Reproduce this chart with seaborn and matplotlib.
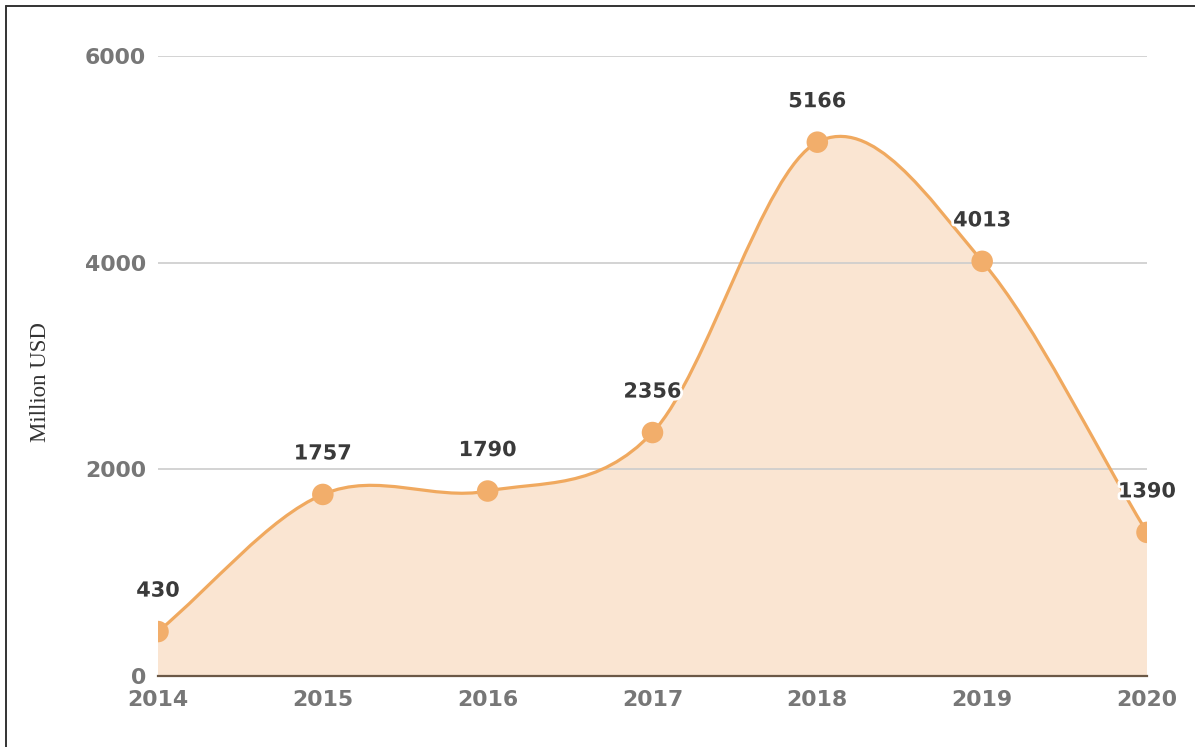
import matplotlib
matplotlib.use("Agg")
import matplotlib.pyplot as plt
import matplotlib.patheffects as pe
from matplotlib.path import Path
from matplotlib.patches import PathPatch
from matplotlib.lines import Line2D
import seaborn as sns
import pandas as pd

years = [2014, 2015, 2016, 2017, 2018, 2019, 2020]
values = [430, 1757, 1790, 2356, 5166, 4013, 1390]
y_ticks = [0, 2000, 4000, 6000]

line_color = "#F0A95F"
fill_color = "#FAE5D2"
marker_color = "#F2AE6B"


def spline_path(xs, ys, close_to=None):
    # catmull-rom tangents -> cubic bezier segments, drawn by matplotlib itself
    n = len(xs)
    tang = []
    for i in range(n):
        if i == 0:
            tang.append((ys[1] - ys[0]) / (xs[1] - xs[0]))
        elif i == n - 1:
            tang.append((ys[-1] - ys[-2]) / (xs[-1] - xs[-2]))
        else:
            tang.append((ys[i + 1] - ys[i - 1]) / (xs[i + 1] - xs[i - 1]))
    verts = [(xs[0], ys[0])]
    codes = [Path.MOVETO]
    for i in range(n - 1):
        h = (xs[i + 1] - xs[i]) / 3
        verts += [(xs[i] + h, ys[i] + tang[i] * h),
                  (xs[i + 1] - h, ys[i + 1] - tang[i + 1] * h),
                  (xs[i + 1], ys[i + 1])]
        codes += [Path.CURVE4] * 3
    if close_to is not None:
        verts += [(xs[-1], close_to), (xs[0], close_to), (xs[0], ys[0])]
        codes += [Path.LINETO, Path.LINETO, Path.CLOSEPOLY]
    return Path(verts, codes)


sns.set_theme(style="white")
plt.rcParams['font.family'] = ['DejaVu Sans']

df = pd.DataFrame({"year": years, "value": values})

fig = plt.figure(figsize=(11.95, 7.47), dpi=100)
ax = fig.add_axes([158 / 1195, 1 - 676 / 747, (1147 - 158) / 1195, (676 - 56) / 747])

ax.add_patch(PathPatch(spline_path(years, values, close_to=0), facecolor=fill_color,
                       edgecolor="none", zorder=1))
ax.add_patch(PathPatch(spline_path(years, values), facecolor="none",
                       edgecolor=line_color, linewidth=2.3, zorder=3))
sns.scatterplot(data=df, x="year", y="value", ax=ax, s=240, color=marker_color,
                edgecolor="none", zorder=4, legend=False)

for x, y in zip(years, values):
    ax.annotate(str(y), (x, y), xytext=(0, 29.5), textcoords="offset points",
                ha="center", va="center", fontsize=15, fontweight="bold", color="#3a3a3a",
                path_effects=[pe.withStroke(linewidth=4, foreground="white")], zorder=5,
                annotation_clip=False)

ax.set_xlim(years[0], years[-1])
ax.set_ylim(0, 6000)
ax.set_xticks(years)
ax.set_yticks(y_ticks)
ax.set_xticklabels([str(y) for y in years])
ax.set_yticklabels([str(t) for t in y_ticks])
ax.tick_params(axis="both", length=0, labelsize=15.8, labelcolor="#777777")
ax.tick_params(axis="x", pad=10)
ax.tick_params(axis="y", pad=8.5)
for lab in ax.get_xticklabels() + ax.get_yticklabels():
    lab.set_fontweight("bold")

ax.set_axisbelow(False)
ax.grid(axis="y", color="#CCCCCC", linewidth=1.2)
ax.grid(axis="x", visible=False)
for side in ["top", "right", "left"]:
    ax.spines[side].set_visible(False)
ax.spines["bottom"].set_color("#6B5846")
ax.spines["bottom"].set_linewidth(1.6)
ax.spines["bottom"].set_zorder(3.5)
ax.set_xlabel("")
ax.set_ylabel("")

fig.text(41 / 1195, 1 - 382 / 747, "Million USD", rotation=90, ha="center", va="center",
         fontsize=16.5, color="#333333", family=["Liberation Serif", "DejaVu Serif"])

# frame of the original image: top and left edges only
bx, by = 6 / 1195, 1 - 6 / 747
fig.add_artist(Line2D([bx, 1.0], [by, by], transform=fig.transFigure, color="#333333", linewidth=1.4))
fig.add_artist(Line2D([bx, bx], [0.0, by], transform=fig.transFigure, color="#333333", linewidth=1.4))

fig.savefig("out.png", dpi=100)
